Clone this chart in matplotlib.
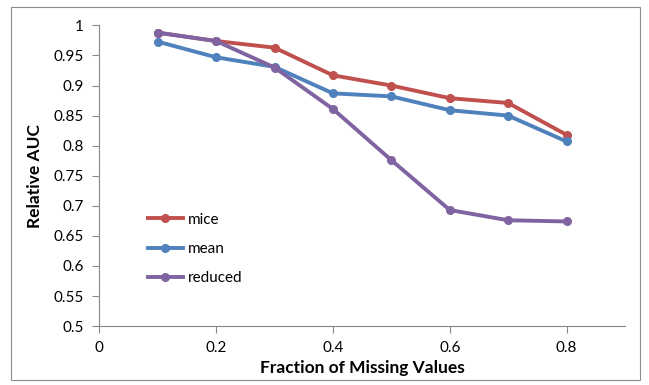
import matplotlib
matplotlib.use("Agg")
import matplotlib.pyplot as plt
from matplotlib.patches import Rectangle

# fraction of missing values and relative AUC per method
fraction = [0.1, 0.2, 0.3, 0.4, 0.5, 0.6, 0.7, 0.8]
mice = [0.988, 0.974, 0.963, 0.917, 0.900, 0.879, 0.871, 0.818]
mean = [0.973, 0.947, 0.931, 0.887, 0.882, 0.859, 0.850, 0.807]
reduced = [0.988, 0.974, 0.930, 0.861, 0.776, 0.693, 0.676, 0.674]

x_ticks = [0, 0.2, 0.4, 0.6, 0.8]
y_ticks = [0.5, 0.55, 0.6, 0.65, 0.7, 0.75, 0.8, 0.85, 0.9, 0.95, 1]
y_labels = ["0.5", "0.55", "0.6", "0.65", "0.7", "0.75", "0.8", "0.85", "0.9", "0.95", "1"]

plt.rcParams['font.family'] = ['Lato', 'DejaVu Sans']

fig = plt.figure(figsize=(6.49, 3.85), dpi=100)
ax = fig.add_axes([0.153, 0.153, 0.81, 0.781])

# outer chart border
fig.patches.append(Rectangle((11 / 649, 5 / 385), 629 / 649, 373 / 385,
                             transform=fig.transFigure, fill=False,
                             edgecolor="#8c8c8c", linewidth=0.8))

ax.plot(fraction, mice, color="#C0504D", lw=2.8, marker="o", ms=5.5, label="mice")
ax.plot(fraction, mean, color="#4F81BD", lw=2.8, marker="o", ms=5.5, label="mean")
ax.plot(fraction, reduced, color="#8064A2", lw=2.8, marker="o", ms=5.5, label="reduced")

ax.set_xlim(0, 0.9)
ax.set_ylim(0.5, 1)
ax.set_xticks(x_ticks)
ax.set_xticklabels(["0", "0.2", "0.4", "0.6", "0.8"])
ax.set_yticks(y_ticks)
ax.set_yticklabels(y_labels)

for s in ["top", "right"]:
    ax.spines[s].set_visible(False)
for s in ["left", "bottom"]:
    ax.spines[s].set_color("#868686")
ax.tick_params(axis="both", direction="out", length=5, color="#868686",
               labelsize=11, pad=6)

ax.set_xlabel("Fraction of Missing Values", fontsize=12.5, fontweight="bold", labelpad=3)
ax.set_ylabel("Relative AUC", fontsize=12.5, fontweight="bold", labelpad=8)

ax.legend(loc="center left", bbox_to_anchor=(0.092, 0.256), frameon=False,
          fontsize=11, handlelength=2.3, handletextpad=0.3, labelspacing=1.0,
          borderpad=0, borderaxespad=0)

fig.savefig("out.png", dpi=100)
